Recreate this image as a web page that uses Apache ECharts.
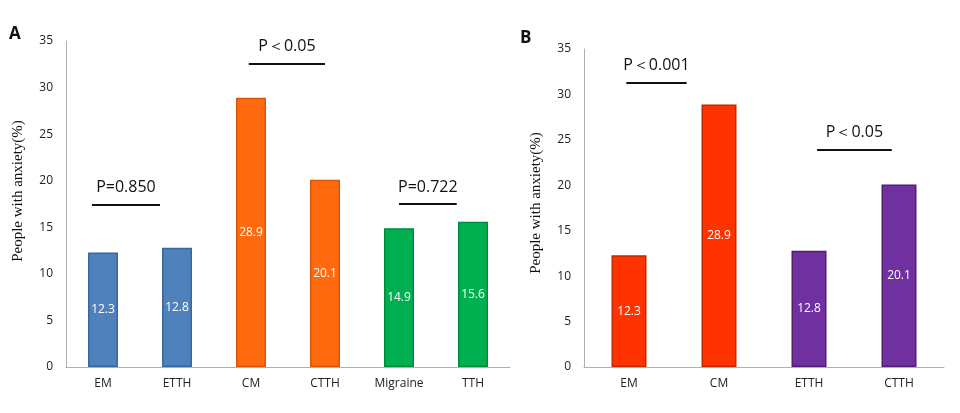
<!DOCTYPE html>
<html><head><meta charset="utf-8">
<script src="https://cdn.jsdelivr.net/npm/echarts@6/dist/echarts.min.js"></script>
<style>html,body{margin:0;padding:0;background:#fff}#c{width:960px;height:413px}</style>
</head><body><div id="c"></div>
<script>
// Panel A
const categoriesA = ['EM', 'ETTH', 'CM', 'CTTH', 'Migraine', 'TTH'];
const valuesA = [12.3, 12.8, 28.9, 20.1, 14.9, 15.6];
// Panel B
const categoriesB = ['EM', 'CM', 'ETTH', 'CTTH'];
const valuesB = [12.3, 28.9, 12.8, 20.1];
const yTicks = [0, 5, 10, 15, 20, 25, 30, 35];
// significance annotations: [label, xStart, xEnd, y] in category-units / value
const annotA = [['P=0.850', 0.35, 1.27, 17.4], ['P＜0.05', 2.47, 3.5, 32.6], ['P=0.722', 4.5, 5.28, 17.5]];
const annotB = [['P＜0.001', 0.47, 1.14, 31.3], ['P＜0.05', 2.59, 3.42, 23.9]];

const styleA = [
  ['#4f81bd', '#3b679c'], ['#4f81bd', '#3b679c'],
  ['#ff6a0e', '#d9560a'], ['#ff6a0e', '#d9560a'],
  ['#00b050', '#008a3e'], ['#00b050', '#008a3e']
];
const styleB = [
  ['#ff3300', '#c42800'], ['#ff3300', '#c42800'],
  ['#7030a0', '#4e1f72'], ['#7030a0', '#4e1f72']
];

const chart = echarts.init(document.getElementById('c'));
const tickFont = { fontFamily: 'Open Sans', fontSize: 12, color: '#222' };

function yAxis(grid, gap, shift) {
  return {
    type: 'value', gridIndex: grid, min: yTicks[0], max: yTicks[yTicks.length - 1], interval: 5,
    axisLine: { show: true, lineStyle: { color: '#b0b0b0', width: 1 } },
    axisTick: { show: false }, splitLine: { show: false },
    axisLabel: Object.assign({ margin: 13 }, tickFont),
    name: 'People with anxiety(%)', nameLocation: 'middle', nameGap: gap,
    nameTextStyle: { fontFamily: 'Liberation Serif', fontSize: 15, color: '#111', padding: [0, 0, 0, shift] }
  };
}
function catAxis(grid, cats) {
  return {
    type: 'category', gridIndex: grid, data: cats,
    axisLine: { lineStyle: { color: '#b0b0b0' } }, axisTick: { show: false },
    axisLabel: Object.assign({ margin: 11 }, tickFont)
  };
}
function hiddenX(grid, n) {
  return { type: 'value', gridIndex: grid, min: 0, max: n, show: false };
}
function bars(xi, yi, vals, styles, w) {
  return {
    type: 'bar', xAxisIndex: xi, yAxisIndex: yi, barWidth: w,
    data: vals.map((v, i) => ({ value: v, itemStyle: { color: styles[i][0], borderColor: styles[i][1], borderWidth: 1.5 } })),
    label: { show: true, position: 'inside', color: '#fff', fontFamily: 'Open Sans', fontSize: 12 }
  };
}
function annot(xi, yi, list) {
  return {
    type: 'line', xAxisIndex: xi, yAxisIndex: yi, data: [], silent: true,
    markLine: {
      symbol: 'none', silent: true, animation: false,
      lineStyle: { color: '#111', width: 2, type: 'solid' },
      label: { show: true, position: 'middle', distance: 9, color: '#111', fontFamily: 'Open Sans', fontSize: 16, formatter: p => p.name },
      data: list.map(a => [{ coord: [a[1], a[3]], name: a[0] }, { coord: [a[2], a[3]] }])
    }
  };
}

chart.setOption({
  animation: false,
  grid: [
    { left: 66, right: 450, top: 41, bottom: 46 },
    { left: 584, right: 16, top: 49, bottom: 46 }
  ],
  xAxis: [catAxis(0, categoriesA), catAxis(1, categoriesB), hiddenX(0, categoriesA.length), hiddenX(1, categoriesB.length)],
  yAxis: [yAxis(0, 40, 26), yAxis(1, 40, 10)],
  series: [
    bars(0, 0, valuesA, styleA, 30),
    bars(1, 1, valuesB, styleB, 35),
    annot(2, 0, annotA),
    annot(3, 1, annotB)
  ],
  graphic: [
    { type: 'text', left: 9, top: 26, style: { text: 'A', font: 'bold 17px "Open Sans"', fill: '#111' } },
    { type: 'text', left: 520, top: 30, style: { text: 'B', font: 'bold 17px "Open Sans"', fill: '#111' } }
  ]
});
</script></body></html>
